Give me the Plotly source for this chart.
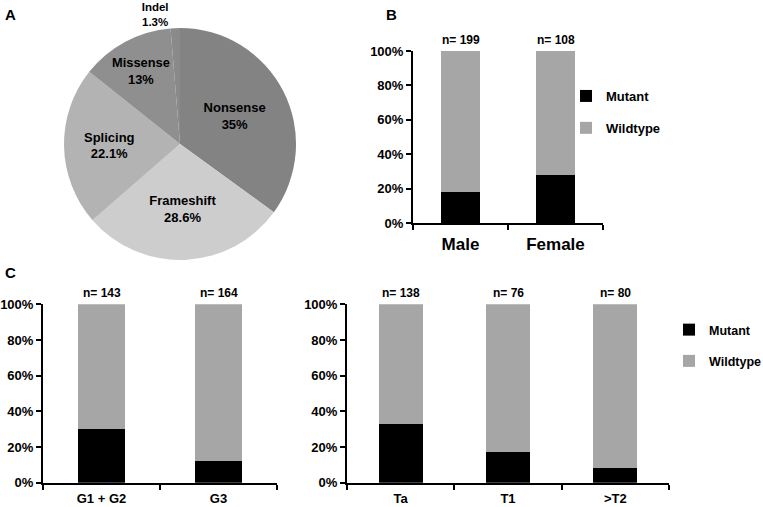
import plotly.graph_objects as go

# ---------------- data ----------------
mut_types = ["Nonsense", "Frameshift", "Splicing", "Missense", "Indel"]
mut_pcts = [35.0, 28.6, 22.1, 13.0, 1.3]
mut_pct_labels = ["35%", "28.6%", "22.1%", "13%", "1.3%"]
pie_colors = ["#838383", "#cdcdcd", "#b3b3b3", "#8f8f8f", "#8a8a8a"]

sex_cats = ["Male", "Female"]
sex_mutant = [0.18, 0.28]
sex_wild = [0.82, 0.72]
sex_n = [199, 108]

grade_cats = ["G1 + G2", "G3"]
grade_mutant = [0.30, 0.12]
grade_wild = [0.70, 0.88]
grade_n = [143, 164]

stage_cats = ["Ta", "T1", ">T2"]
stage_mutant = [0.33, 0.17, 0.08]
stage_wild = [0.67, 0.83, 0.92]
stage_n = [138, 76, 80]

FONT = "Liberation Sans, Arial, Helvetica, sans-serif"
MUT_COLOR = "#000000"
WT_COLOR = "#a6a6a6"
W, H = 763, 507


def px_x(a, b):
    return [a / W, b / W]


def px_y(top, bottom):
    return [1 - bottom / H, 1 - top / H]


fig = go.Figure()

# ---------------- A: pie ----------------
cx, cy, r = 180, 144, 116
fig.add_trace(go.Pie(
    labels=mut_types,
    values=mut_pcts,
    text=mut_pct_labels,
    texttemplate="%{label}<br>%{text}",
    textposition=["inside", "inside", "inside", "inside", "outside"],
    insidetextorientation="horizontal",
    textfont=dict(family=FONT, size=13, color="black", weight="bold"),
    outsidetextfont=dict(family=FONT, size=11.5, color="black", weight="bold"),
    marker=dict(colors=pie_colors, line=dict(width=0)),
    sort=False,
    direction="clockwise",
    rotation=0,
    showlegend=False,
    hoverinfo="label+percent",
    domain=dict(x=px_x(cx - r, cx + r), y=px_y(cy - r, cy + r)),
))


# ---------------- bar panels ----------------
def add_panel(cats, mutant, wild, ns, xa, ya, legend, show):
    fig.add_trace(go.Bar(
        x=cats, y=mutant, name="Mutant", marker_color=MUT_COLOR,
        marker_line_width=0, xaxis=xa, yaxis=ya,
        legend=legend, legendgroup=legend + "m", showlegend=show,
    ))
    fig.add_trace(go.Bar(
        x=cats, y=wild, name="Wildtype", marker_color=WT_COLOR,
        marker_line_width=0, xaxis=xa, yaxis=ya,
        legend=legend, legendgroup=legend + "w", showlegend=show,
    ))
    for c, m, w, n in zip(cats, mutant, wild, ns):
        fig.add_annotation(
            x=c, y=m + w, xref=xa, yref=ya, text=f"n= {n}",
            showarrow=False, yanchor="bottom", yshift=2,
            font=dict(family=FONT, size=12, color="black", weight="bold"),
        )


add_panel(sex_cats, sex_mutant, sex_wild, sex_n, "x", "y", "legend", True)
add_panel(grade_cats, grade_mutant, grade_wild, grade_n, "x2", "y2", "legend2", False)
add_panel(stage_cats, stage_mutant, stage_wild, stage_n, "x3", "y3", "legend2", True)

yax_common = dict(
    range=[0, 1], tickmode="linear", tick0=0, dtick=0.2, tickformat=".0%",
    showgrid=False, zeroline=False, showline=True, linecolor="black",
    linewidth=2, ticks="outside", ticklen=5, tickwidth=2, tickcolor="black",
    tickfont=dict(family=FONT, size=13, color="black", weight="bold"),
    fixedrange=True,
)
xax_common = dict(
    type="category", showgrid=False, zeroline=False, showline=True,
    linecolor="black", linewidth=2, ticks="outside", tickson="boundaries",
    ticklen=5, tickwidth=2, tickcolor="black", fixedrange=True,
)

fig.update_layout(
    width=W, height=H,
    margin=dict(l=0, r=0, t=0, b=0, autoexpand=False),
    paper_bgcolor="white", plot_bgcolor="white",
    barmode="stack", bargap=0.59,
    font=dict(family=FONT, color="black"),
    xaxis=dict(domain=px_x(413, 603), anchor="y", ticklabelstandoff=5,
               tickfont=dict(family=FONT, size=17, color="black", weight="bold"),
               **xax_common),
    yaxis=dict(domain=px_y(51, 223), anchor="x", **yax_common),
    xaxis2=dict(domain=px_x(43, 277), anchor="y2", ticklabelstandoff=3,
                tickfont=dict(family=FONT, size=13, color="black", weight="bold"),
                **xax_common),
    yaxis2=dict(domain=px_y(304.3, 482.7), anchor="x2", **yax_common),
    xaxis3=dict(domain=px_x(347, 669), anchor="y3", ticklabelstandoff=3,
                tickfont=dict(family=FONT, size=13, color="black", weight="bold"),
                **xax_common),
    yaxis3=dict(domain=px_y(304.3, 482.7), anchor="x3", **yax_common),
    legend=dict(
        x=566 / W, y=1 - 81 / H, xanchor="left", yanchor="top",
        traceorder="grouped", tracegroupgap=12, bgcolor="rgba(0,0,0,0)",
        font=dict(family=FONT, size=13, color="black", weight="bold"),
    ),
    legend2=dict(
        x=669 / W, y=1 - 315 / H, xanchor="left", yanchor="top",
        traceorder="grouped", tracegroupgap=12, bgcolor="rgba(0,0,0,0)",
        font=dict(family=FONT, size=12.5, color="black", weight="bold"),
    ),
)

# panel letters
for letter, lx, ly in [("A", 3, 4), ("B", 384, 4), ("C", 3, 262)]:
    fig.add_annotation(
        x=lx / W, y=1 - ly / H, xref="paper", yref="paper", text=letter,
        showarrow=False, xanchor="left", yanchor="top",
        font=dict(family=FONT, size=15, color="black", weight="bold"),
    )

fig.write_html(
    "out.html",
    config={"displayModeBar": False},
    post_script="document.body.style.margin='0';document.body.style.overflow='hidden';",
)
